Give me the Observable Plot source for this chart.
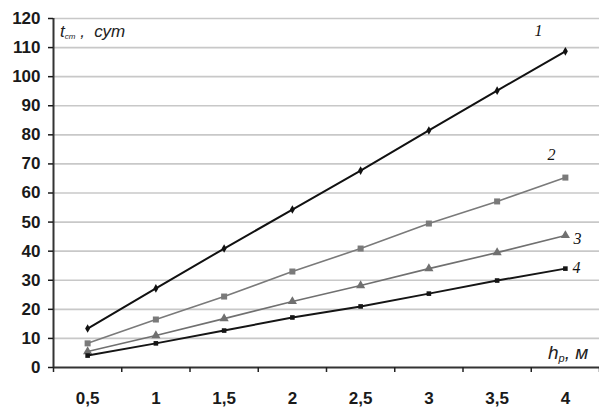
<!DOCTYPE html>
<html><head><meta charset="utf-8">
<script src="https://cdn.jsdelivr.net/npm/d3@7"></script>
<script src="https://cdn.jsdelivr.net/npm/@observablehq/plot@0.6"></script>
<style>body{margin:0;background:#fff;}</style>
</head><body>
<div id="chart"></div>
<script>
const hp = [0.5, 1, 1.5, 2, 2.5, 3, 3.5, 4];
const xTickLabels = ["0,5", "1", "1,5", "2", "2,5", "3", "3,5", "4"];
const yTicks = [0, 10, 20, 30, 40, 50, 60, 70, 80, 90, 100, 110, 120];
const s1 = [13.4, 27.2, 40.9, 54.3, 67.7, 81.5, 95.2, 108.7];
const s2 = [8.3, 16.5, 24.4, 33.0, 40.9, 49.5, 57.1, 65.3];
const s3 = [5.5, 11.0, 16.8, 22.7, 28.2, 34.0, 39.5, 45.4];
const s4 = [4.1, 8.3, 12.7, 17.2, 21.0, 25.4, 29.9, 34.0];
const seriesNames = ["1", "2", "3", "4"];
const seriesLabelY = [115.6, 73.2, 44.3, 34.4];

const seriesVals = [s1, s2, s3, s4];
const styles = [
  {stroke: "#111", width: 2, symbol: "diamond", r: 2.6, labelDx: -27},
  {stroke: "#7a7a7a", width: 1.6, symbol: "square", r: 3.4, labelDx: -14},
  {stroke: "#707070", width: 1.6, symbol: "triangle", r: 3.4, labelDx: 12},
  {stroke: "#151515", width: 2, symbol: "square", r: 2.6, labelDx: 11}
];
const rows = s => hp.map((x, i) => ({x, y: seriesVals[s][i]}));
const bounds = hp.map(d => d - 0.25).concat([hp[hp.length - 1] + 0.25]);

const marks = [
  Plot.ruleY(yTicks.filter(d => d > 0), {stroke: "#c8c8c8", strokeWidth: 1.6}),
];
seriesVals.forEach((_, s) => {
  const st = styles[s];
  marks.push(Plot.line(rows(s), {x: "x", y: "y", stroke: st.stroke, strokeWidth: st.width}));
  marks.push(Plot.dot(rows(s), {x: "x", y: "y", symbol: () => st.symbol, r: st.r, fill: st.stroke, stroke: "none"}));
  marks.push(Plot.text([seriesNames[s]], {x: hp[hp.length - 1], y: seriesLabelY[s], text: d => d, dx: st.labelDx,
    fontFamily: "Liberation Serif, Times New Roman, serif", fontStyle: "italic", fontSize: 16, fill: "#111"}));
});
marks.push(
  Plot.ruleX([bounds[0]], {stroke: "#333", strokeWidth: 2}),
  Plot.ruleY([0], {stroke: "#333", strokeWidth: 2}),
  Plot.axisY({ticks: yTicks, tickSize: 5, tickPadding: 8, fontSize: 17, fontWeight: "bold", label: null, color: "#1a1a1a", strokeWidth: 1.5}),
  Plot.axisX({ticks: bounds, tickSize: 5, tickFormat: () => "", label: null, color: "#222", strokeWidth: 1.5}),
  Plot.axisX({ticks: hp, tickSize: 0, tickPadding: 24, tickFormat: d => xTickLabels[hp.indexOf(d)], fontSize: 17, fontWeight: "bold", label: null, color: "#1a1a1a"})
);

const chart = Plot.plot({
  width: 599, height: 408,
  marginTop: 18, marginBottom: 41, marginLeft: 53, marginRight: 0,
  style: {fontFamily: "Liberation Sans, Arial, sans-serif", background: "#fff", overflow: "visible"},
  x: {type: "linear", domain: [bounds[0], bounds[bounds.length - 1]]},
  y: {domain: [0, 120]},
  marks
});
document.getElementById("chart").append(chart);

const svg = d3.select(chart);
const yt = svg.append("text").attr("x", 60).attr("y", 37).attr("text-anchor", "start")
  .attr("font-family", "Liberation Sans, Arial, sans-serif").attr("font-style", "italic")
  .attr("font-size", 17).attr("fill", "#222");
yt.append("tspan").text("t");
yt.append("tspan").attr("font-size", 8).attr("dy", 2).text("ст");
yt.append("tspan").attr("dy", -2).text(" ,  сут");

const xt = svg.append("text").attr("x", 548).attr("y", 359).attr("text-anchor", "start")
  .attr("font-family", "Liberation Sans, Arial, sans-serif").attr("font-style", "italic")
  .attr("font-size", 19).attr("fill", "#222");
xt.append("tspan").text("h");
xt.append("tspan").attr("font-size", 11).attr("dy", 3).text("р");
xt.append("tspan").attr("dy", -3).text(", м");
</script>
</body></html>
